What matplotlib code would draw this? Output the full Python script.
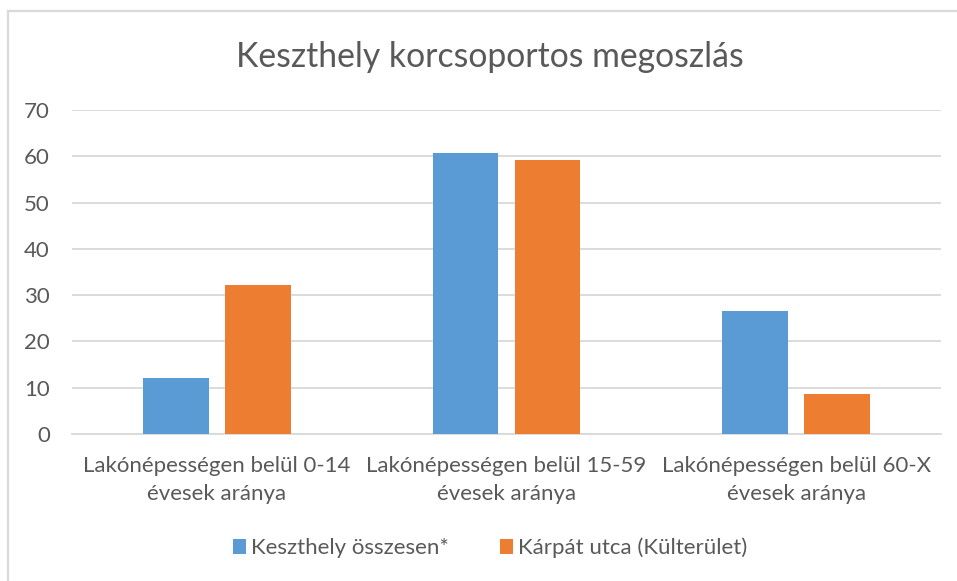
import matplotlib.pyplot as plt
import numpy as np

plt.rcParams['font.family'] = ['Lato', 'DejaVu Sans']

categories = ["Lakónépességen belül 0-14\névesek aránya",
              "Lakónépességen belül 15-59\névesek aránya",
              "Lakónépességen belül 60-X\névesek aránya"]
keszthely = [12.0, 60.7, 26.6]
karpat = [32.2, 59.1, 8.6]
series_names = ["Keszthely összesen*", "Kárpát utca (Külterület)"]

blue = "#5B9BD5"
orange = "#ED7D31"
text_col = "#595959"
grid_col = "#D9D9D9"

fig = plt.figure(figsize=(9.57, 5.81), dpi=100)
ax = fig.add_axes([72 / 957, 1 - 434 / 581, 869 / 957, 324 / 581])

x = np.arange(len(categories))
w = 0.226
off = 0.1415
ax.bar(x - off, keszthely, w, color=blue, label=series_names[0], zorder=3)
ax.bar(x + off, karpat, w, color=orange, label=series_names[1], zorder=3)

ax.set_xlim(-0.5, 2.5)
ax.set_ylim(0, 70)
ax.set_yticks(range(0, 71, 10))
ax.yaxis.grid(True, color=grid_col, linewidth=1.3, zorder=0)
ax.set_axisbelow(True)
for s in ["top", "right", "left"]:
    ax.spines[s].set_visible(False)
ax.spines["bottom"].set_color(grid_col)
ax.spines["bottom"].set_linewidth(1.3)
ax.tick_params(axis="both", length=0, colors=text_col, labelsize=16)
ax.tick_params(axis="y", pad=16)
ax.tick_params(axis="x", pad=16)
ax.set_xticks(x)
ax.set_xticklabels(categories, linespacing=1.5)

fig.text(490 / 957, 1 - 57 / 581, "Keszthely korcsoportos megoszlás",
         ha="center", va="center", fontsize=24.3, color=text_col)

fig.legend(loc="center", bbox_to_anchor=(490 / 957, 1 - 548 / 581), ncol=2,
           frameon=False, fontsize=16, labelcolor=text_col,
           handlelength=0.6, handleheight=0.6, handletextpad=0.2,
           columnspacing=2.3)

# chart frame
fig.add_artist(plt.Rectangle((8 / 957, -0.01), 1.0, 1 - 11 / 581 + 0.01,
                             transform=fig.transFigure, fill=False,
                             edgecolor=grid_col, linewidth=1.6))

fig.savefig("out.png", dpi=100)
